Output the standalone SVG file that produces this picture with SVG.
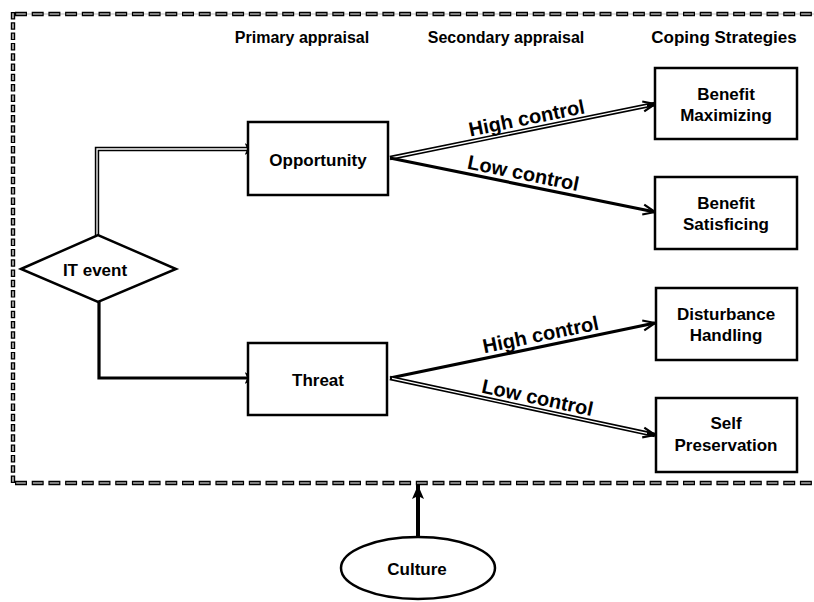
<svg xmlns="http://www.w3.org/2000/svg" width="814" height="602" viewBox="0 0 814 602">
  <style>
    text { font-family: "Liberation Sans", Arial, sans-serif; font-weight: bold; fill: #000; }
    .head { font-size: 16px; text-anchor: middle; }
    .node { font-size: 17px; text-anchor: middle; }
    .lbl { font-size: 20px; text-anchor: middle; }
    .box { fill: #fff; stroke: #000; stroke-width: 2.5; }
    .dashH { fill: none; stroke: #000; stroke-width: 4.4; stroke-dasharray: 12 4.7; }
    .dashHi { fill: none; stroke: #fff; stroke-width: 1.2; stroke-dasharray: 9.6 7.1; stroke-dashoffset: -1.2; }
    .dashV { fill: none; stroke: #000; stroke-width: 4.4; stroke-dasharray: 7.5 2.8; }
    .dashVi { fill: none; stroke: #fff; stroke-width: 1.2; stroke-dasharray: 5.1 5.2; stroke-dashoffset: -1.2; }
    .solid { fill: none; stroke: #000; stroke-width: 3.2; }
    .dbl { fill: none; stroke: #000; stroke-width: 4.4; }
    .dblIn { fill: none; stroke: #fff; stroke-width: 1.3; }
  </style>
  <defs>
    <marker id="vee" markerUnits="userSpaceOnUse" markerWidth="16" markerHeight="14" refX="13" refY="6" orient="auto" viewBox="0 0 16 12">
      <path d="M1,1 L13,6 L1,11" fill="none" stroke="#000" stroke-width="2.2"/>
    </marker>
    <marker id="tri" markerUnits="userSpaceOnUse" markerWidth="14" markerHeight="14" refX="10" refY="6" orient="auto" viewBox="0 0 14 12">
      <path d="M1,1.5 L10,6 L1,10.5 L3,6 Z" fill="#000" stroke="#000" stroke-width="1.2"/>
    </marker>
    <marker id="up" markerUnits="userSpaceOnUse" markerWidth="16" markerHeight="16" refX="14" refY="7" orient="auto" viewBox="0 0 16 14">
      <path d="M0,1 L14,7 L0,13 L3,7 Z" fill="#000"/>
    </marker>
  </defs>

  <!-- dashed boundary (open on the right) -->
  <g id="boundary">
    <line x1="13" y1="14" x2="814" y2="14" stroke="#bbb" stroke-width="1"/>
    <path class="dashH" d="M15,14 H814"/>
    <path class="dashHi" d="M15,14 H814"/>
    <path class="dashH" d="M15,483 H814"/>
    <path class="dashHi" d="M15,483 H814"/>
    <path class="dashV" d="M13,12 V485"/>
    <path class="dashVi" d="M13,12 V485"/>
  </g>

  <!-- column headings -->
  <g id="headings">
    <text class="head" x="302" y="43">Primary appraisal</text>
    <text class="head" x="506" y="43">Secondary appraisal</text>
    <text class="head" x="724" y="43" style="font-size:17px">Coping Strategies</text>
  </g>

  <!-- connectors -->
  <g id="connectors">
    <!-- IT event to Opportunity (double line) -->
    <path class="dbl" d="M97,236 V149 H255" marker-end="url(#tri)"/>
    <path class="dblIn" d="M97,236 V149 H247" stroke="#999"/>
    <!-- IT event to Threat (heavy line) -->
    <path class="solid" d="M99,302 V378 H255" stroke-width="4" marker-end="url(#tri)"/>

    <!-- Opportunity branches -->
    <line class="dbl" x1="390" y1="158" x2="655" y2="104" marker-end="url(#vee)"/>
    <line class="dblIn" x1="392" y1="157.6" x2="647" y2="105.6"/>
    <line class="solid" x1="390" y1="158" x2="655" y2="212" marker-end="url(#vee)"/>

    <!-- Threat branches -->
    <line class="solid" x1="390" y1="378" x2="655" y2="323" marker-end="url(#vee)"/>
    <line class="dbl" x1="390" y1="378" x2="655" y2="435" marker-end="url(#vee)"/>
    <line class="dblIn" x1="392" y1="378.4" x2="647" y2="433.3"/>

    <!-- Culture to boundary -->
    <line x1="418" y1="538" x2="418" y2="485" stroke="#000" stroke-width="4" marker-end="url(#up)"/>

    <!-- branch labels -->
    <text class="lbl" transform="translate(529,129.7) rotate(-11.5)" y="-5">High control</text>
    <text class="lbl" transform="translate(521,184.7) rotate(11.5)" y="-5">Low control</text>
    <text class="lbl" transform="translate(543,346.2) rotate(-11.7)" y="-5">High control</text>
    <text class="lbl" transform="translate(535,409.2) rotate(12.1)" y="-5">Low control</text>
  </g>

  <g id="it-event">
    <polygon class="box" points="21,269 98,235 176,269 98,302"/>
    <text class="node" x="95" y="276">IT event</text>
  </g>

  <g id="opportunity">
    <rect class="box" x="248" y="122" width="140" height="73"/>
    <text class="node" x="318" y="166">Opportunity</text>
  </g>

  <g id="threat">
    <rect class="box" x="248" y="343" width="139" height="72"/>
    <text class="node" x="318" y="386">Threat</text>
  </g>

  <g id="benefit-maximizing">
    <rect class="box" x="655" y="68" width="142" height="71"/>
    <text class="node" x="726" y="100">Benefit</text>
    <text class="node" x="726" y="121">Maximizing</text>
  </g>

  <g id="benefit-satisficing">
    <rect class="box" x="655" y="177" width="142" height="72"/>
    <text class="node" x="726" y="209">Benefit</text>
    <text class="node" x="726" y="230">Satisficing</text>
  </g>

  <g id="disturbance-handling">
    <rect class="box" x="656" y="288" width="141" height="72"/>
    <text class="node" x="726" y="320">Disturbance</text>
    <text class="node" x="726" y="341">Handling</text>
  </g>

  <g id="self-preservation">
    <rect class="box" x="656" y="398" width="141" height="74"/>
    <text class="node" x="726" y="429">Self</text>
    <text class="node" x="726" y="451">Preservation</text>
  </g>

  <g id="culture">
    <ellipse class="box" cx="418" cy="568" rx="77" ry="31"/>
    <text class="node" x="417" y="575">Culture</text>
  </g>
</svg>
